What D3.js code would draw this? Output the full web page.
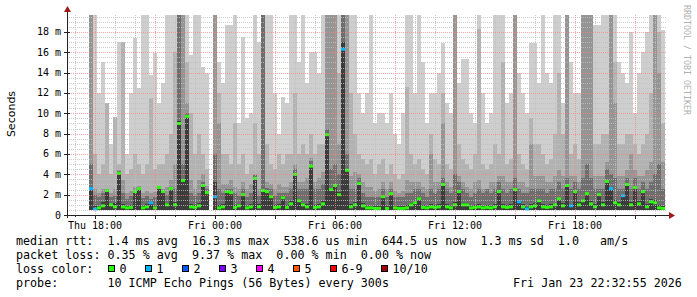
<!DOCTYPE html>
<html>
<head>
<meta charset="utf-8">
<script src="https://cdn.jsdelivr.net/npm/d3@7"></script>
<style>
body { margin: 0; background: #fff; }
text { font-family: "DejaVu Sans Mono", monospace; white-space: pre; }
</style>
</head>
<body>
<div id="chart"></div>
<script>
// smokeping style graph: 10 pings every 300s, consolidated to 12 minute steps
var start = new Date(2026, 0, 22, 17, 42);
var stepMin = 12;
var minPing = 0.45;

// highest ping of each step (ms)
var pMax = [20,20,12,15,11,7,9.6,17, 17,6,12,17.4,12.5,20,20,13.8,
  15.9,11,13,20,20,20,20,20, 20,15.7,20,20,14.6,14,null,20,
  15,13,18.7,18.7,20,9,17.5,9.5, 10,20,17,20,20,20,12,8,
  11.6,11,20,20,15,20,13,16, 16,14,20,20,20,20,20,20,
  20,20,20,12,10,12,20,9, 10,10,9,12,8,7,10,20,
  20,12,20,15,9,12,12,14, 16.9,11,10,20,13,15.3,15.3,10,
  9,20,12,9,10,20,20,20, 11,12,20,14,12,10,16.9,16.9,
  13,20,14,13,20,20,11,20, 15,12,12,20,20,20,18.7,18.7,
  20,20,20,20,15,14,13,18, 10,14,16,18,20,20,20,18.2];
// 9th ping
var p9 = [20,6,4,5,11,4,9.6,5, 17,4,4.5,6,5,4,5,11.5,
  4.5,5,5,6,8,16,20,20, 15,10,6,8,6,4.5,null,20,
  12,6,6,5,9,5,6,4, 5,9,6,20,7,5,4.5,6,
  5,6,6,12,6,7,6,8, 6,7,7,20,20,20,14,20,
  20,12,8,6,5.5,5,5.5,4, 5,5.5,4,5,4,3.5,4,12.6,
  6,5,5.5,4.5,4,8,5.5,5, 12,5,4.5,20,7,5.5,5,4.5,
  6,18.3,5,4.5,5,7,6,15, 5,5.5,20,6,5,4.5,9.5,7,
  7,6,5,5.5,8,14,8,20, 6,7,5.5,20,20,20,7,7,
  8,8,20,15,7,7,8,8, 7,6,7,8,12,20,18,9];
// 8th ping
var p8 = [20,2.6,2.2,2.6,2.6,2.2,2.6,4.4, 3.4,2.2,2.4,2.8,2.9,2.2,2.4,2.2,
  2.3,2.9,2.6,2.8,3.4,5,20,20, 11,3.4,2.6,3.4,4,2.9,null,20,
  9,3,3,3.4,2.8,2.6,3.2,2.6, 3,4,2.6,20,3.2,3,2.6,3,
  2.8,2.8,3.2,5,3.2,3.2,3.6,5.6, 3.2,3.6,4.2,20,20,20,7,20,
  20,3.8,4.2,4,3.2,2.8,2.8,2.4, 2.6,3.2,2.6,3.2,2.4,2.2,2.4,3.4,
  3.2,3.2,3.2,2.8,2.6,6,3.2,3.2, 9,3.2,2.8,20,3.8,3.2,2.8,2.6,
  3.2,3.4,2.6,2.6,3.2,3.2,3.8,3.8, 3.2,3.2,20,3.2,3.2,2.8,7,3.8,
  3.8,3.8,3.2,3.2,3.8,4.4,3.8,20, 3.8,3.8,3.2,20,20,20,3.8,3.8,
  3.8,5.2,20,11,3.8,3.8,4.4,6, 4.4,3.8,3.8,4.4,5.2,20,14,5.2];
// 7th ping
var p7 = [5,2,1.8,2.2,2.6,1.8,1.9,4.3, 2.2,1.6,1.9,2.5,2.7,1.7,1.9,1.6,
  1.8,2.7,2.4,2,2.7,2.6,20,5, 10,2.2,1.9,2.2,3.2,2.6,null,6,
  2.6,2.2,2.6,2.6,2.2,1.9,2.6,1.8, 2.2,3.9,1.9,20,2.7,2.6,1.9,2.2,
  2.2,2.2,2.6,4.5,2.6,2.6,2.6,5.3, 2.6,2.6,3,8.5,4.5,5,4,20,
  6,2.6,2.6,3.6,2.2,1.8,1.8,1.8, 1.8,2.6,1.8,2.6,1.8,1.8,1.8,2.2,
  2.2,2.6,2.6,2.2,1.8,2.6,2.2,2.6, 3.6,2.6,2.2,4,3.2,2.6,2.2,1.8,
  2.2,2.6,2.2,2.6,2.2,2.6,3.2,2.6, 2.2,2.6,3.6,2.6,2.2,2.2,2.6,2.6,
  2.6,2.6,2.2,2.6,2.6,3.2,2.6,3.6, 2.6,3.2,2.6,3.6,5,3.6,2.6,2.6,
  2.6,4.5,4,3.6,2.6,2.6,3.6,2.6, 3.6,2.6,3.2,2.6,3.2,4,5,2.6];
// 6th ping (upper edge of the dark core)
var p6 = [2.8,0.9,0.9,1.3,2.4,1.1,1.2,4.1, 1.1,0.9,1.0,2.4,2.6,0.9,1.1,1.2,
  0.9,2.7,2.3,1.2,2.6,1.3,9.2,3.5, 9.8,1.1,1.0,1.2,3.0,2.3,null,3.2,
  1.0,1.1,2.4,2.3,1.0,1.1,2.1,0.9, 1.1,3.7,1.1,2.5,2.4,1.9,1.0,1.1,
  1.9,1.0,1.4,4.1,1.6,1.2,1.1,4.9, 1.0,1.1,1.4,8.0,2.7,3.0,2.3,17,
  4.5,1.1,1.3,3.2,1.2,0.9,0.9,0.9, 0.9,1.9,0.9,2.2,0.9,0.9,0.9,1.0,
  1.2,1.4,1.8,1.0,0.9,1.1,1.0,1.1, 3.1,1.1,0.9,1.3,2.4,1.2,1.2,0.9,
  1.0,1.1,0.9,1.0,0.9,1.1,2.4,1.1, 1.0,1.1,2.6,1.4,1.1,0.8,1.1,1.2,
  1.6,1.1,1.0,1.1,1.2,1.7,1.2,3.0, 1.0,2.4,1.3,1.6,2.2,1.4,1.1,2.1,
  1.3,3.4,2.7,1.5,1.3,2.0,3.1,1.3, 2.8,1.4,2.4,1.1,1.6,1.5,1.0,0.9];
// median rtt (ms)
var median = [2.6,0.6,0.7,0.9,2.4,1.0,0.8,4.1, 0.8,0.7,0.75,2.3,2.6,0.7,0.8,1.2,
  0.7,2.7,2.3,1.0,2.6,1.0,9.0,3.4, 9.7,0.8,0.75,0.9,2.9,2.2,null,1.8,
  0.7,0.8,2.3,2.2,0.75,0.9,2.0,0.7, 0.8,3.6,0.8,2.4,2.3,1.8,0.75,0.8,
  1.7,0.75,1.1,4.0,1.4,1.0,0.8,4.8, 0.75,0.8,1.1,7.9,2.5,2.9,2.0,16.3,
  4.4,0.8,1.0,3.1,0.9,0.7,0.7,0.65, 0.65,1.8,0.65,2.1,0.7,0.65,0.65,0.7,
  1.0,1.2,1.6,0.75,0.7,0.8,0.75,0.8, 3.0,0.8,0.7,1.0,2.3,1.0,1.0,0.7,
  0.75,0.8,0.7,0.75,0.7,0.8,2.3,0.8, 0.75,0.8,2.5,1.3,0.8,0.6,0.8,0.9,
  1.4,0.8,0.75,0.8,1.0,1.6,0.9,2.9, 0.9,2.3,1.0,1.4,2.1,1.1,0.8,2.0,
  1.0,3.3,2.6,1.2,1.0,1.9,3.0,1.0, 2.7,1.1,2.3,0.8,1.3,1.2,0.7,0.65];
// lost pings per step
var loss = [1,1,0,0,0,0,0,0, 0,0,0,0,0,0,0,1,
  0,0,0,0,0,0,0,0, 0,0,0,0,0,0,0,1,
  0,0,0,0,0,0,0,0, 0,0,0,0,0,0,0,0,
  0,0,0,0,0,0,0,0, 0,0,0,0,0,0,0,1,
  0,0,0,0,0,0,0,0, 0,0,0,0,0,0,0,0,
  0,0,0,0,0,0,0,0, 0,0,0,0,0,0,0,0,
  0,0,0,0,0,0,0,0, 0,0,0,1,0,1,0,0,
  0,0,0,0,0,0,0,0, 1,0,0,0,0,0,0,0,
  0,0,1,0,0,1,0,0, 0,0,0,0,0,0,0,0];

var yTicks = [0, 2, 4, 6, 8, 10, 12, 14, 16, 18];
var lossLabels = ["0", "1", "2", "3", "4", "5", "6-9", "10/10"];
var lossColors = ["#26ff00", "#00b8ff", "#0059ff", "#7e00ff", "#ff00ff", "#ff5500", "#ff0000", "#a10000"];
var smokeColors = ["#cecece", "#b2b2b2", "#959595", "#6e6e6e", "#3c3c3c"];

var legendLines = [
  "median rtt:  1.4 ms avg  16.3 ms max  538.6 us min  644.5 us now  1.3 ms sd  1.0   am/s",
  "packet loss: 0.35 % avg  9.37 % max  0.00 % min  0.00 % now",
  "loss color:",
  "probe:       10 ICMP Echo Pings (56 Bytes) every 300s"
];
var stamp = "Fri Jan 23 22:32:55 2026";

var width = 697, height = 297;
var yTop = 19.67;

var svg = d3.select("#chart").append("svg")
  .attr("width", width)
  .attr("height", height);

var x = d3.scaleTime()
  .domain([new Date(2026, 0, 22, 16, 36), new Date(2026, 0, 23, 22, 36)])
  .range([67, 667]);
var y = d3.scaleLinear().domain([0, yTop]).range([215, 15]);

var rows = median.map(function(m, i) {
  return {
    t: d3.timeMinute.offset(start, i * stepMin),
    t2: d3.timeMinute.offset(start, (i + 1) * stepMin),
    levels: [pMax[i], p9[i], p8[i], p7[i], p6[i]],
    med: m,
    loss: loss[i]
  };
}).filter(function(d) { return d.med != null; });

// smoke, lightest (widest spread) first
var smoke = svg.append("g").attr("shape-rendering", "crispEdges");
smokeColors.forEach(function(c, k) {
  smoke.append("g").selectAll("rect")
    .data(rows)
    .join("rect")
    .attr("x", function(d) { return x(d.t); })
    .attr("width", function(d) { return x(d.t2) - x(d.t); })
    .attr("y", function(d) { return y(Math.min(d.levels[k], yTop)); })
    .attr("height", function(d) { return y(minPing) - y(Math.min(d.levels[k], yTop)); })
    .attr("fill", c);
});

// median line
svg.append("g").selectAll("line")
  .data(rows)
  .join("line")
  .attr("x1", function(d) { return x(d.t); })
  .attr("x2", function(d) { return x(d.t2); })
  .attr("y1", function(d) { return y(d.med); })
  .attr("y2", function(d) { return y(d.med); })
  .attr("stroke", function(d) { return lossColors[d.loss]; })
  .attr("stroke-width", 3);

// grid on top
var grid = svg.append("g").attr("shape-rendering", "crispEdges");
var minorY = d3.range(0.5, yTop, 0.5).filter(function(v) { return v % 2 !== 0; });
grid.selectAll(".gy").data(minorY).join("line")
  .attr("x1", 67).attr("x2", 667)
  .attr("y1", function(v) { return Math.round(y(v)) + 0.5; })
  .attr("y2", function(v) { return Math.round(y(v)) + 0.5; })
  .attr("stroke", "#c0c0c0").attr("stroke-opacity", 0.8).attr("stroke-dasharray", "1,1");
var hours = d3.timeHour.range(x.domain()[0], x.domain()[1]);
var minorX = hours.filter(function(h) { return h.getHours() % 3 !== 0; });
var majorX = hours.filter(function(h) { return h.getHours() % 3 === 0; });
grid.selectAll(".gx").data(minorX).join("line")
  .attr("y1", 15).attr("y2", 215)
  .attr("x1", function(h) { return Math.round(x(h)) + 0.5; })
  .attr("x2", function(h) { return Math.round(x(h)) + 0.5; })
  .attr("stroke", "#c0c0c0").attr("stroke-opacity", 0.8).attr("stroke-dasharray", "1,1");
grid.selectAll(".my").data(yTicks.slice(1)).join("line")
  .attr("x1", 67).attr("x2", 667)
  .attr("y1", function(v) { return Math.round(y(v)) + 0.5; })
  .attr("y2", function(v) { return Math.round(y(v)) + 0.5; })
  .attr("stroke", "#ff8080").attr("stroke-opacity", 0.7).attr("stroke-dasharray", "1,1");
grid.selectAll(".mx").data(majorX).join("line")
  .attr("y1", 15).attr("y2", 215)
  .attr("x1", function(h) { return Math.round(x(h)) + 0.5; })
  .attr("x2", function(h) { return Math.round(x(h)) + 0.5; })
  .attr("stroke", "#ff8080").attr("stroke-opacity", 0.7).attr("stroke-dasharray", "1,1");

// axes
var ax = svg.append("g").attr("shape-rendering", "crispEdges").attr("stroke", "#222");
ax.append("line").attr("x1", 64).attr("x2", 669).attr("y1", 215.5).attr("y2", 215.5);
ax.append("line").attr("x1", 67.5).attr("x2", 67.5).attr("y1", 218).attr("y2", 11);
ax.selectAll(".tx").data(hours).join("line")
  .attr("x1", function(h) { return Math.round(x(h)) + 0.5; })
  .attr("x2", function(h) { return Math.round(x(h)) + 0.5; })
  .attr("y1", 215).attr("y2", function(h) { return h.getHours() % 3 === 0 ? 219 : 217; });
ax.selectAll(".ty").data(yTicks.slice(1)).join("line")
  .attr("y1", function(v) { return Math.round(y(v)) + 0.5; })
  .attr("y2", function(v) { return Math.round(y(v)) + 0.5; })
  .attr("x1", 64).attr("x2", 70);
svg.append("path").attr("d", "M669,212L675,215.5L669,219Z").attr("fill", "#a01818");
svg.append("path").attr("d", "M64,12L67.5,6L71,12Z").attr("fill", "#a01818");

// y tick labels
svg.append("g").selectAll("text").data(yTicks).join("text")
  .attr("x", 61).attr("y", function(v) { return y(v) + 3.5; })
  .attr("text-anchor", "end")
  .attr("font-size", "10px")
  .text(function(v) { return v === 0 ? "0" : v + " m"; });

// x tick labels every 6 hours
var fmt = d3.timeFormat("%a %H:%M");
svg.append("g").selectAll("text")
  .data(hours.filter(function(h) { return h.getHours() % 6 === 0; }))
  .join("text")
  .attr("x", function(h) { return x(h); }).attr("y", 229)
  .attr("text-anchor", "middle")
  .attr("font-size", "10px")
  .text(fmt);

svg.append("text")
  .attr("transform", "translate(15,114) rotate(-90)")
  .attr("text-anchor", "middle")
  .style("font-family", "'DejaVu Sans', sans-serif")
  .attr("font-size", "11px")
  .text("Seconds");

svg.append("text")
  .attr("transform", "translate(684,5) rotate(90)")
  .attr("font-size", "8.3px")
  .attr("fill", "#b0b0b0")
  .text("RRDTOOL / TOBI OETIKER");

// legend
var leg = svg.append("g").attr("font-size", "11.7px").attr("fill", "#000");
legendLines.forEach(function(l, i) {
  leg.append("text").attr("x", 16).attr("y", 245 + i * 14).text(l);
});
leg.append("text").attr("x", 513).attr("y", 287).text(stamp);
var bx = 108;
lossLabels.forEach(function(l, k) {
  leg.append("rect").attr("x", bx + 0.5).attr("y", 265.5).attr("width", 6).attr("height", 6)
    .attr("fill", lossColors[k]).attr("stroke", "#000").attr("shape-rendering", "crispEdges");
  leg.append("text").attr("x", bx + 11.5).attr("y", 273).text(l);
  bx += 30 + 7 * l.length;
});
</script>
</body>
</html>
